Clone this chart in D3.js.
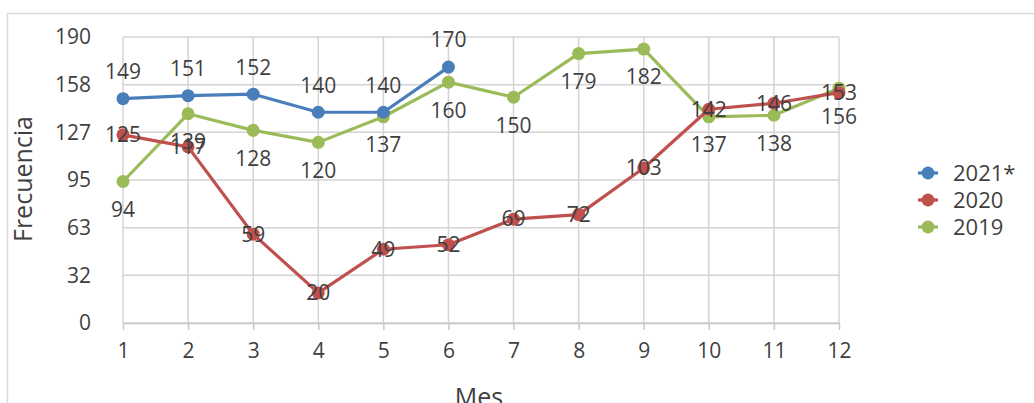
<!DOCTYPE html>
<html>
<head>
<meta charset="utf-8">
<script src="https://cdn.jsdelivr.net/npm/d3@7"></script>
<style>
  body { margin: 0; background: #fff; }
  svg { display: block; font-family: "Open Sans", sans-serif; }
</style>
</head>
<body>
<svg id="chart" width="1034" height="403"></svg>
<script>
// data
var months = [1, 2, 3, 4, 5, 6, 7, 8, 9, 10, 11, 12];
var values2021 = [149, 151, 152, 140, 140, 170];
var values2020 = [125, 117, 59, 20, 49, 52, 69, 72, 103, 142, 146, 153];
var values2019 = [94, 139, 128, 120, 137, 160, 150, 179, 182, 137, 138, 156];
var yTickValues = [0, 190 / 6, 380 / 6, 95, 760 / 6, 950 / 6, 190];
var seriesNames = ['2021*', '2020', '2019'];
var seriesColors = ['#4a7ebb', '#c0504d', '#9bbb59'];

var series = [
  { name: seriesNames[0], color: seriesColors[0], values: values2021, labelPos: 'above' },
  { name: seriesNames[1], color: seriesColors[1], values: values2020, labelPos: 'center' },
  { name: seriesNames[2], color: seriesColors[2], values: values2019, labelPos: 'below' }
];

var svg = d3.select('#chart');
var textColor = '#3f3f3f';
var gridColor = '#d4d4d4';

// outer chart border
svg.append('rect')
  .attr('x', 7.5).attr('y', 13.5)
  .attr('width', 1100).attr('height', 500)
  .attr('fill', 'none')
  .attr('stroke', '#d9d9d9')
  .attr('stroke-width', 1.5);

var xScale = d3.scaleLinear().domain([1, 12]).range([123, 839]);
var yScale = d3.scaleLinear().domain([0, 190]).range([323, 37]);

var grid = svg.append('g');
grid.selectAll('.hgrid').data(yTickValues).enter().append('line')
  .attr('class', 'hgrid')
  .attr('x1', xScale(1)).attr('x2', xScale(12))
  .attr('y1', function(d) { return yScale(d); })
  .attr('y2', function(d) { return yScale(d); })
  .attr('stroke', gridColor).attr('stroke-width', 1.5);
grid.selectAll('.vgrid').data(months).enter().append('line')
  .attr('class', 'vgrid')
  .attr('y1', yScale(0)).attr('y2', yScale(190))
  .attr('x1', function(d) { return xScale(d); })
  .attr('x2', function(d) { return xScale(d); })
  .attr('stroke', gridColor).attr('stroke-width', 1.5);

var xAxis = d3.axisBottom(xScale).tickValues(months).tickSize(7).tickSizeOuter(0).tickPadding(13);
var xAxisGroup = svg.append('g')
  .attr('transform', 'translate(0,' + yScale(0) + ')')
  .call(xAxis);
xAxisGroup.select('.domain').attr('stroke', '#c8c8c8').attr('stroke-width', 1.5);
xAxisGroup.selectAll('.tick line').attr('stroke', '#c8c8c8').attr('stroke-width', 1.5);
xAxisGroup.selectAll('.tick text')
  .attr('fill', textColor)
  .style('font-size', '21px')
  .style('font-family', '"Open Sans", sans-serif');

var yAxis = d3.axisLeft(yScale).tickValues(yTickValues).tickSize(0).tickPadding(32)
  .tickFormat(d3.format('.0f'));
var yAxisGroup = svg.append('g')
  .attr('transform', 'translate(' + xScale(1) + ',0)')
  .call(yAxis);
yAxisGroup.select('.domain').remove();
yAxisGroup.selectAll('.tick text')
  .attr('fill', textColor)
  .style('font-size', '21px')
  .style('font-family', '"Open Sans", sans-serif');

// axis titles
svg.append('text')
  .attr('transform', 'translate(32,179) rotate(-90)')
  .attr('text-anchor', 'middle')
  .attr('fill', textColor)
  .style('font-size', '25px')
  .text('Frecuencia');
svg.append('text')
  .attr('x', 479).attr('y', 406)
  .attr('text-anchor', 'middle')
  .attr('fill', textColor)
  .style('font-size', '25px')
  .text('Mes');

var line = d3.line()
  .x(function(d, i) { return xScale(months[i]); })
  .y(function(d) { return yScale(d); });

// draw 2019 first so 2021* sits on top
var drawOrder = series.slice().reverse();
drawOrder.forEach(function(s) {
  var g = svg.append('g');
  g.append('path')
    .datum(s.values)
    .attr('d', line)
    .attr('fill', 'none')
    .attr('stroke', s.color)
    .attr('stroke-width', 3.2)
    .attr('stroke-linejoin', 'round');
  g.selectAll('circle').data(s.values).enter().append('circle')
    .attr('cx', function(d, i) { return xScale(months[i]); })
    .attr('cy', function(d) { return yScale(d); })
    .attr('r', 6.5)
    .attr('fill', s.color);
});

// data labels
drawOrder.forEach(function(s) {
  var offset = s.labelPos == 'above' ? -27 : (s.labelPos == 'below' ? 28 : 0);
  svg.append('g').selectAll('text').data(s.values).enter().append('text')
    .attr('x', function(d, i) { return xScale(months[i]); })
    .attr('y', function(d) { return yScale(d) + offset; })
    .attr('dy', '0.35em')
    .attr('text-anchor', 'middle')
    .attr('fill', textColor)
    .style('font-size', '21px')
    .text(function(d) { return d; });
});

// legend
var legend = svg.append('g').attr('transform', 'translate(928,173)');
var items = legend.selectAll('g').data(series).enter().append('g')
  .attr('transform', function(d, i) { return 'translate(0,' + (i * 27) + ')'; });
items.append('line')
  .attr('x1', -10).attr('x2', 10)
  .attr('stroke', function(d) { return d.color; })
  .attr('stroke-width', 3.2);
items.append('circle')
  .attr('r', 6.5)
  .attr('fill', function(d) { return d.color; });
items.append('text')
  .attr('x', 25)
  .attr('dy', '0.35em')
  .attr('fill', textColor)
  .style('font-size', '22px')
  .text(function(d) { return d.name; });
</script>
</body>
</html>
